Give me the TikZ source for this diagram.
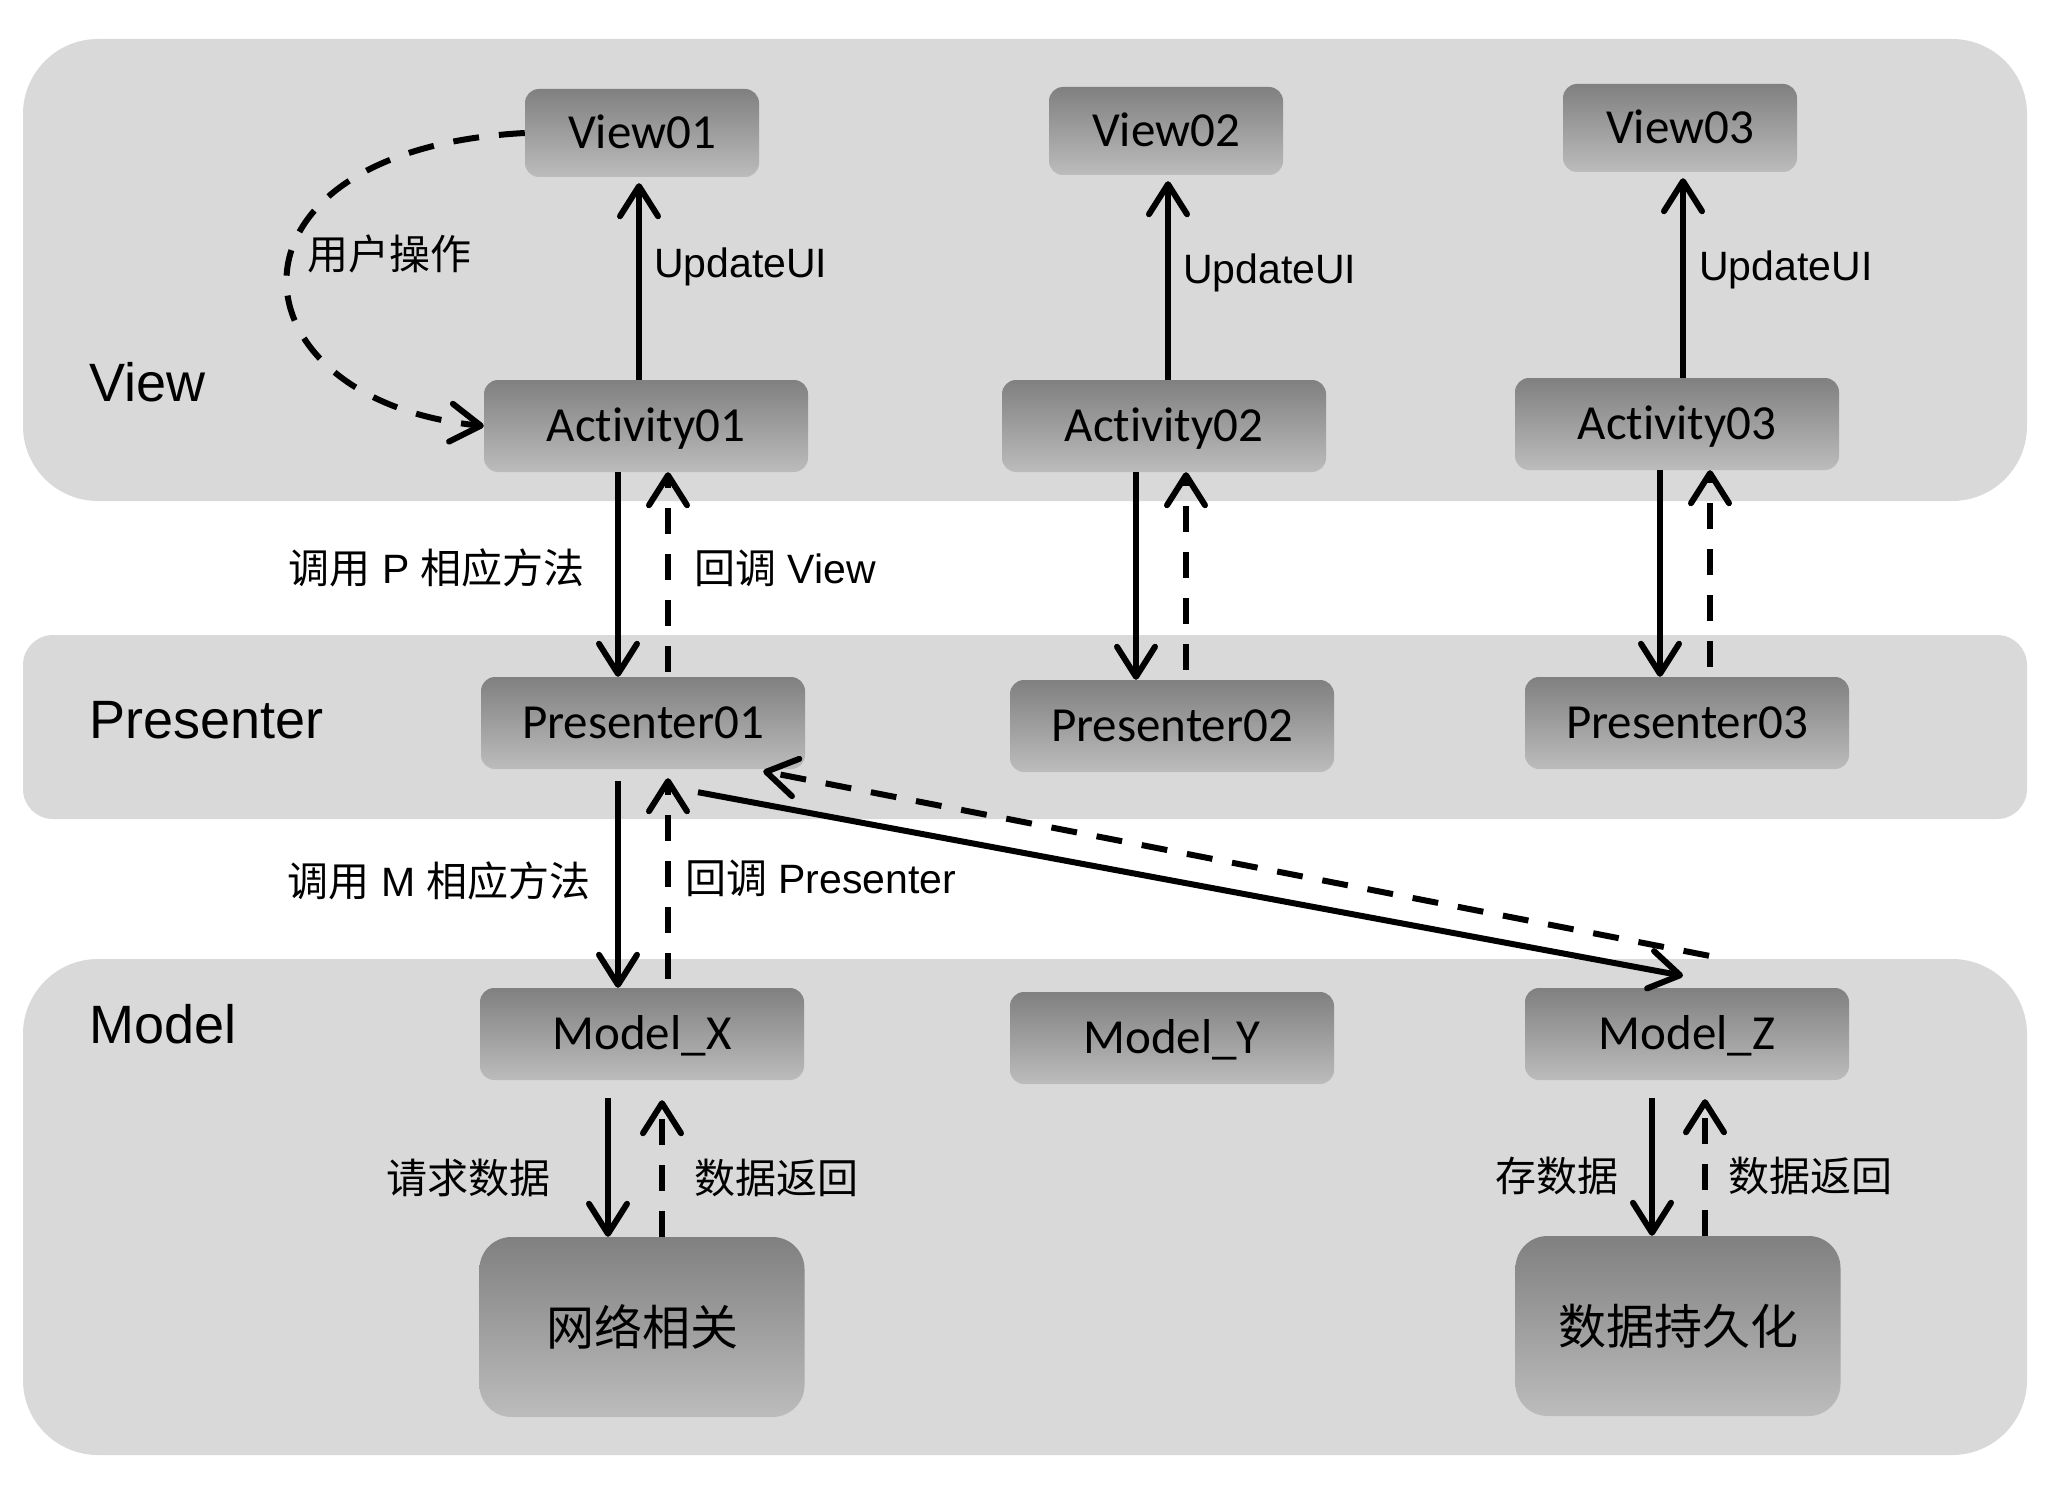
\documentclass[tikz,border=0pt]{standalone}
\usepackage{fontspec}
\setmainfont{Liberation Sans}
\newfontfamily\calib[RawFeature=-liga]{Carlito}
\newfontfamily\cjk{Noto Sans CJK SC}
\usetikzlibrary{arrows.meta, positioning}
\definecolor{bandgray}{RGB}{217,217,217}
\definecolor{boxtop}{RGB}{128,128,128}
\definecolor{boxbot}{RGB}{188,188,188}

\begin{document}
\begin{tikzpicture}[x=1pt, y=-1pt,
  band/.style={fill=bandgray, rounded corners=75pt},
  gbox/.style={rounded corners=14pt, top color=boxtop, bottom color=boxbot, inner sep=0pt},
  mbox/.style={gbox, minimum width=324pt, minimum height=92pt, text height=31pt, text depth=0pt, font=\calib\fontsize{49}{56}\selectfont},
  vbox/.style={mbox, minimum width=234pt, minimum height=88pt},
  bigbox/.style={gbox, rounded corners=32pt, minimum width=325pt, minimum height=180pt, font=\cjk\fontsize{48}{56}\selectfont},
  layer/.style={anchor=west, inner sep=0pt, font=\fontsize{54}{62}\selectfont},
  lbl/.style={inner sep=0pt, font=\fontsize{41}{48}\selectfont},
  call/.style={line width=6pt, -{Straight Barb[length=30pt,width=38pt,round]}},
  back/.style={call, dash pattern=on 26pt off 20pt}
]
  \useasboundingbox (0,0) rectangle (2046,1498);
  \fill[white] (0,0) rectangle (2046,1498);

  % layers
  \fill[band] (23,39) rectangle (2027,501);
  \fill[band, rounded corners=30pt] (23,635) rectangle (2027,819);
  \fill[band] (23,959) rectangle (2027,1455);
  \node[layer] at (89,382) {View};
  \node[layer] at (89,720) {Presenter};
  \node[layer] at (89,1024) {Model};

  % boxes
  \node[vbox] (view1) at (642,133) {View01};
  \node[vbox] (view2) at (1166,131) {View02};
  \node[vbox] (view3) at (1680,128) {View03};
  \node[mbox] (act1) at (646,426) {Activity01};
  \node[mbox] (act2) at (1164,426) {Activity02};
  \node[mbox] (act3) at (1677,424) {Activity03};
  \node[mbox] (pre1) at (643,723) {Presenter01};
  \node[mbox] (pre2) at (1172,726) {Presenter02};
  \node[mbox] (pre3) at (1687,723) {Presenter03};
  \node[mbox] (modx) at (642,1034) {Model\_X};
  \node[mbox] (mody) at (1172,1038) {Model\_Y};
  \node[mbox] (modz) at (1687,1034) {Model\_Z};
  \node[bigbox] (net) at (642,1327) {网络相关};
  \node[bigbox] (store) at (1678,1326) {数据持久化};

  % view <-> activity
  \draw[back] (view1.west) .. controls (205,150) and (225,400) .. (act1.west);
  \node[lbl, anchor=west] at (307,254) {\cjk 用户操作};
  \draw[call, shorten >=6pt] ([xshift=-7pt]act1.north) -- ([xshift=-7pt]act1.north |- view1.south);
  \draw[call, shorten >=6pt] ([xshift=4pt]act2.north) -- ([xshift=4pt]act2.north |- view2.south);
  \draw[call, shorten >=6pt] ([xshift=6pt]act3.north) -- ([xshift=6pt]act3.north |- view3.south);
  \node[lbl, anchor=west] at (654,267) {UpdateUI};
  \node[lbl, anchor=west] at (1183,273) {UpdateUI};
  \node[lbl, anchor=west] at (1699,270) {UpdateUI};

  % activity <-> presenter
  \draw[call] ([xshift=-28pt]act1.south) -- ([xshift=-28pt]act1.south |- pre1.north);
  \draw[back] ([xshift=22pt,yshift=5pt]act1.south |- pre1.north) -- ([xshift=22pt]act1.south);
  \draw[call] ([xshift=-28pt]act2.south) -- ([xshift=-28pt]act2.south |- pre2.north);
  \draw[back] ([xshift=22pt,yshift=10pt]act2.south |- pre2.north) -- ([xshift=22pt]act2.south);
  \draw[call] ([xshift=-17pt]act3.south) -- ([xshift=-17pt]act3.south |- pre3.north);
  \draw[back] ([xshift=33pt,yshift=10pt]act3.south |- pre3.north) -- ([xshift=33pt]act3.south);
  \node[lbl, anchor=east] at (585,568) {{\cjk 调用} P {\cjk 相应方法}};
  \node[lbl, anchor=west] at (694,568) {{\cjk 回调} View};

  % presenter <-> model
  \draw[call, shorten <=12pt] ([xshift=-25pt]pre1.south) -- ([xshift=-25pt]pre1.south |- modx.north);
  \draw[back, shorten <=9pt, shorten >=9pt] ([xshift=25pt]pre1.south |- modx.north) -- ([xshift=25pt]pre1.south);
  \draw[call] ([xshift=55pt,yshift=-23pt]pre1.south) -- ([xshift=-4pt,yshift=12pt]modz.north);
  \draw[back] ([xshift=22pt,yshift=32pt]modz.north) -- ([xshift=-42pt,yshift=-2pt]pre1.south east);
  \node[lbl, anchor=east] at (591,881) {{\cjk 调用} M {\cjk 相应方法}};
  \node[lbl, anchor=west] at (685,878) {{\cjk 回调} Presenter};

  % model <-> data
  \draw[call, shorten <=18pt] ([xshift=-34pt]modx.south) -- ([xshift=-34pt]modx.south |- net.north);
  \draw[back, shorten >=20pt] ([xshift=20pt]modx.south |- net.north) -- ([xshift=20pt]modx.south);
  \draw[call, shorten <=18pt] ([xshift=-35pt]modz.south) -- ([xshift=-35pt]modz.south |- store.north);
  \draw[back, shorten >=19pt] ([xshift=18pt]modz.south |- store.north) -- ([xshift=18pt]modz.south);
  \node[lbl, anchor=east] at (551,1178) {\cjk 请求数据};
  \node[lbl, anchor=west] at (694,1178) {\cjk 数据返回};
  \node[lbl, anchor=east] at (1619,1176) {\cjk 存数据};
  \node[lbl, anchor=west] at (1728,1176) {\cjk 数据返回};
\end{tikzpicture}
\end{document}
